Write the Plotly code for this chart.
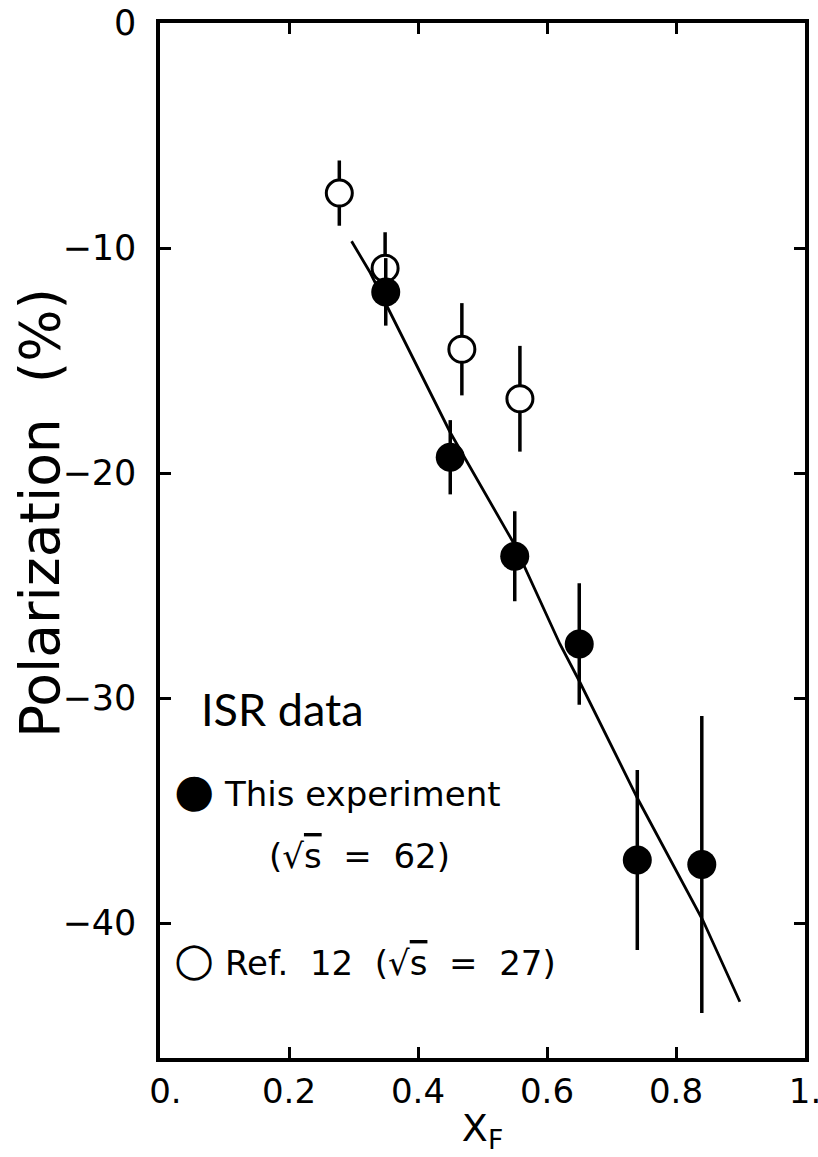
import plotly.graph_objects as go

# Filled points: this experiment (sqrt(s)=62)
xf_this = [0.35, 0.45, 0.55, 0.65, 0.74, 0.84]
pol_this = [-11.95, -19.3, -23.7, -27.6, -37.2, -37.4]
err_this = [1.5, 1.65, 2.0, 2.7, 4.0, 6.6]

# Open points: Ref. 12 (sqrt(s)=27)
xf_ref = [0.278, 0.349, 0.468, 0.558]
pol_ref = [-7.56, -10.9, -14.5, -16.7]
err_ref = [1.45, 1.6, 2.05, 2.35]

# Fitted curve
xf_line = [0.297, 0.326, 0.45, 0.548, 0.62, 0.651, 0.741, 0.842, 0.899]
pol_line = [-9.7, -11.1, -18.2, -23.1, -27.6, -29.3, -34.5, -39.9, -43.5]

NB = "\u00a0"
x_tickvals = [0.0, 0.2, 0.4, 0.6, 0.8, 1.0]
x_ticktext = [NB + "0.", "0.2", "0.4", "0.6", "0.8", "1."]
y_tickvals = [-40, -30, -20, -10, 0]
y_ticktext = ["\u221240", "\u221230", "\u221220", "\u221210", "0"]

FONT = "DejaVu Sans"

fig = go.Figure()

fig.add_trace(go.Scatter(
    x=xf_line, y=pol_line, mode="lines",
    line=dict(color="black", width=2.8), showlegend=False))

fig.add_trace(go.Scatter(
    x=xf_ref, y=pol_ref, mode="markers",
    marker=dict(symbol="circle", size=26, color="white",
                line=dict(color="black", width=3)),
    error_y=dict(type="data", array=err_ref, visible=True,
                 color="black", thickness=3.5, width=0),
    showlegend=False))

fig.add_trace(go.Scatter(
    x=xf_this, y=pol_this, mode="markers",
    marker=dict(symbol="circle", size=29, color="black",
                line=dict(color="black", width=0)),
    error_y=dict(type="data", array=err_this, visible=True,
                 color="black", thickness=3.5, width=0),
    showlegend=False))

axis_common = dict(
    showline=True, linecolor="black", linewidth=3.5, mirror="ticks",
    ticks="inside", ticklen=11, tickwidth=3, tickcolor="black",
    showgrid=False, zeroline=False, ticklabeloverflow="allow",
)

fig.update_xaxes(
    range=[0, 1], tickmode="array", tickvals=x_tickvals, ticktext=x_ticktext,
    tickfont=dict(family=FONT, size=34, color="black"),
    title=dict(text="X<sub>F</sub>", font=dict(family=FONT, size=38, color="black"),
               standoff=6),
    **axis_common)
fig.update_yaxes(
    range=[-46, 0], tickmode="array", tickvals=y_tickvals, ticktext=y_ticktext,
    tickfont=dict(family=FONT, size=35, color="black"),
    ticklabelstandoff=13,
    **axis_common)

annotations = [
    dict(text="Polarization" + NB + NB + "(%)", textangle=-90,
         font=dict(family=FONT, size=55, color="black"),
         xref="paper", yref="paper", x=-0.187, y=0.527,
         xanchor="center", yanchor="middle", showarrow=False),
    dict(text="ISR data", font=dict(family="Lato", size=45, color="black"),
         xref="paper", yref="paper", x=0.06, y=0.337,
         xanchor="left", yanchor="middle", showarrow=False),
    dict(text="<span style='font-size:46px'>\u25cf</span>" + NB + "This experiment",
         font=dict(family=FONT, size=34, color="black"),
         xref="paper", yref="paper", x=0.018, y=0.259,
         xanchor="left", yanchor="middle", showarrow=False),
    dict(text="(\u221a<span style='text-decoration:overline'>s</span>" + NB + NB + "=" + NB + NB + "62)",
         font=dict(family=FONT, size=34, color="black"),
         xref="paper", yref="paper", x=0.166, y=0.195,
         xanchor="left", yanchor="middle", showarrow=False),
    dict(text="<span style='font-size:46px'>\u25cb</span>" + NB + "Ref." + NB + NB + "12" + NB + NB +
              "(\u221a<span style='text-decoration:overline'>s</span>" + NB + NB + "=" + NB + NB + "27)",
         font=dict(family=FONT, size=34, color="black"),
         xref="paper", yref="paper", x=0.018, y=0.096,
         xanchor="left", yanchor="middle", showarrow=False),
]

fig.update_layout(
    width=818, height=1157,
    margin=dict(l=160, r=13, t=23, b=99, autoexpand=False),
    paper_bgcolor="white", plot_bgcolor="white",
    annotations=annotations,
    showlegend=False,
)

fig.write_html("out.html")
